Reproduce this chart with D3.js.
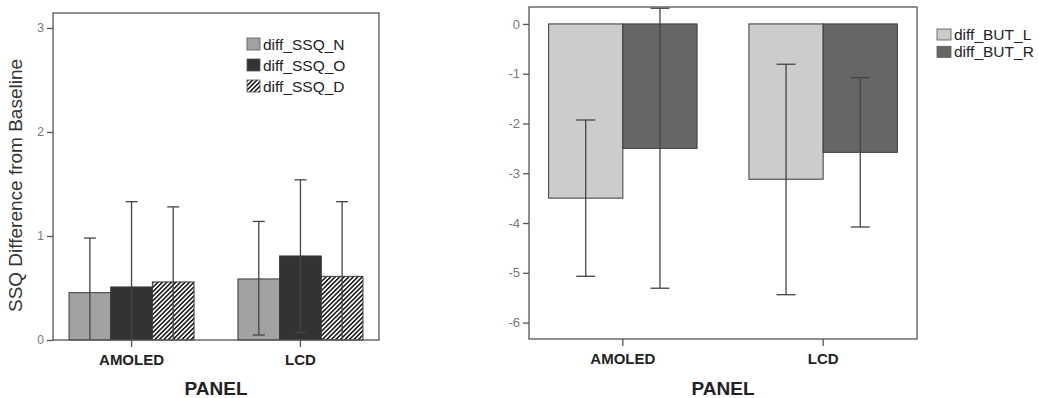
<!DOCTYPE html>
<html>
<head>
<meta charset="utf-8">
<script src="https://cdn.jsdelivr.net/npm/d3@7"></script>
<style>
  body { margin: 0; background: #fff; }
  svg { font-family: Arial, "Liberation Sans", sans-serif; }
  .yaxis .tick text { fill: #777; }
  .xaxis .tick text { fill: #222; }
  .axis path, .axis line { stroke: #555; stroke-width: 1.3; }
</style>
</head>
<body>
<svg id="chart" width="1039" height="398"></svg>
<script>
// categories shared by both panels
const panels = ['AMOLED', 'LCD'];

// left panel: SSQ difference, mean and 95% CI bounds
const ssqSeries = ['diff_SSQ_N', 'diff_SSQ_O', 'diff_SSQ_D'];
const ssqMean  = [[0.455, 0.51, 0.558], [0.587, 0.808, 0.612]];
const ssqLow   = [[-0.07, -0.31, -0.16], [0.048, 0.07, -0.1]];
const ssqHigh  = [[0.98, 1.33, 1.28], [1.14, 1.54, 1.33]];
const ssqTicks = [0, 1, 2, 3];

// right panel: BUT difference
const butSeries = ['diff_BUT_L', 'diff_BUT_R'];
const butMean  = [[-3.5, -2.5], [-3.12, -2.58]];
const butLow   = [[-5.07, -5.31], [-5.44, -4.08]];
const butHigh  = [[-1.93, 0.315], [-0.81, -1.08]];
const butTicks = [0, -1, -2, -3, -4, -5, -6];

const svg = d3.select('#chart');

// hatch pattern for diff_SSQ_D
const defs = svg.append('defs');
defs.append('pattern')
    .attr('id', 'hatch')
    .attr('patternUnits', 'userSpaceOnUse')
    .attr('width', 3.2).attr('height', 3.2)
    .attr('patternTransform', 'rotate(45)')
  .call(p => {
    p.append('rect').attr('width', 3.2).attr('height', 3.2).attr('fill', '#fff');
    p.append('rect').attr('width', 1.5).attr('height', 3.2).attr('fill', '#111');
  });

function drawPanel(cfg) {
  const x0 = d3.scaleBand().domain(panels).range([cfg.left, cfg.right]).paddingInner(cfg.padIn).paddingOuter(cfg.padOut);
  const x1 = d3.scaleBand().domain(cfg.series).range([0, x0.bandwidth()]);
  const y = d3.scaleLinear().domain(cfg.domain).range([cfg.bottom, cfg.top]);

  const g = svg.append('g');
  const clipId = 'clip-' + cfg.id;
  defs.append('clipPath').attr('id', clipId)
    .append('rect')
      .attr('x', cfg.left).attr('y', cfg.top)
      .attr('width', cfg.right - cfg.left).attr('height', cfg.bottom - cfg.top);

  const rows = [];
  panels.forEach((p, i) => cfg.series.forEach((s, j) => {
    rows.push({panel: p, series: s, j: j, mean: cfg.mean[i][j], lo: cfg.low[i][j], hi: cfg.high[i][j]});
  }));

  // bars
  g.append('g').selectAll('rect')
    .data(rows)
    .join('rect')
      .attr('x', d => x0(d.panel) + x1(d.series))
      .attr('width', x1.bandwidth())
      .attr('y', d => y(Math.max(0, d.mean)))
      .attr('height', d => Math.abs(y(d.mean) - y(0)))
      .attr('fill', d => cfg.colors[d.j])
      .attr('stroke', '#3a3a3a')
      .attr('stroke-width', 1);

  // error bars (clipped to the plot frame like the original)
  const eb = g.append('g').attr('clip-path', `url(#${clipId})`)
    .attr('stroke', '#444').attr('stroke-width', 1.3);
  const cx = d => x0(d.panel) + x1(d.series) + x1.bandwidth() / 2;
  eb.selectAll('.stem').data(rows).join('line')
      .attr('x1', cx).attr('x2', cx)
      .attr('y1', d => y(d.lo)).attr('y2', d => y(d.hi));
  ['lo', 'hi'].forEach(k => {
    eb.selectAll('.cap-' + k).data(rows).join('line')
        .attr('x1', d => cx(d) - cfg.cap).attr('x2', d => cx(d) + cfg.cap)
        .attr('y1', d => y(d[k])).attr('y2', d => y(d[k]));
  });

  // frame
  g.append('rect')
      .attr('x', cfg.left).attr('y', cfg.top)
      .attr('width', cfg.right - cfg.left).attr('height', cfg.bottom - cfg.top)
      .attr('fill', 'none').attr('stroke', '#555').attr('stroke-width', 1.3);

  // axes
  g.append('g').attr('class', 'axis yaxis')
      .attr('transform', `translate(${cfg.left},0)`)
      .call(d3.axisLeft(y).tickValues(cfg.ticks).tickFormat(d => String(d)).tickSizeOuter(0).tickSize(6).tickPadding(3))
      .call(a => a.select('.domain').remove())
      .call(a => a.selectAll('text').style('font-size', cfg.tickFont + 'px'));
  g.append('g').attr('class', 'axis xaxis')
      .attr('transform', `translate(0,${cfg.bottom})`)
      .call(d3.axisBottom(x0).tickSizeOuter(0).tickSize(7).tickPadding(7))
      .call(a => a.select('.domain').remove())
      .call(a => a.selectAll('text').style('font-size', '15px').style('font-weight', 'bold'));

  g.append('text')
      .attr('x', (cfg.left + cfg.right) / 2).attr('y', 395)
      .attr('text-anchor', 'middle')
      .style('font-size', '19px').style('font-weight', 'bold').attr('fill', '#222')
      .text('PANEL');

  if (cfg.yTitle) {
    g.append('text')
        .attr('transform', `translate(22,${(cfg.top + cfg.bottom) / 2 + 9}) rotate(-90)`)
        .attr('text-anchor', 'middle')
        .style('font-size', '19px').attr('fill', '#333')
        .text(cfg.yTitle);
  }

  // legend
  const lg = g.append('g').attr('transform', `translate(${cfg.legend[0]},${cfg.legend[1]})`);
  cfg.series.forEach((s, j) => {
    const row = lg.append('g').attr('transform', `translate(0,${j * cfg.legendStep})`);
    row.append('rect').attr('width', cfg.swatch[0]).attr('height', cfg.swatch[1])
        .attr('fill', cfg.colors[j]).attr('stroke', '#555').attr('stroke-width', 0.8);
    row.append('text').attr('x', cfg.swatch[0] + 3).attr('y', cfg.swatch[1] / 2 + 5.5)
        .style('font-size', '15.5px').attr('fill', '#222').text(s);
  });
}

drawPanel({
  id: 'ssq', left: 53, right: 379, top: 13, bottom: 340,
  domain: [0, 3.144], ticks: ssqTicks, padIn: 0.26, padOut: 0.095, tickFont: 12,
  series: ssqSeries, mean: ssqMean, low: ssqLow, high: ssqHigh,
  colors: ['#a2a2a2', '#333333', 'url(#hatch)'], cap: 6,
  yTitle: 'SSQ Difference from Baseline',
  legend: [247, 38], legendStep: 21, swatch: [13, 12]
});

drawPanel({
  id: 'but', left: 529, right: 917, top: 7, bottom: 339,
  domain: [-6.33, 0.34], ticks: butTicks, padIn: 0.259, padOut: 0.098, tickFont: 13,
  series: butSeries, mean: butMean, low: butLow, high: butHigh,
  colors: ['#cccccc', '#666666'], cap: 9.5,
  legend: [937, 29], legendStep: 17.3, swatch: [14, 11]
});
</script>
</body>
</html>
